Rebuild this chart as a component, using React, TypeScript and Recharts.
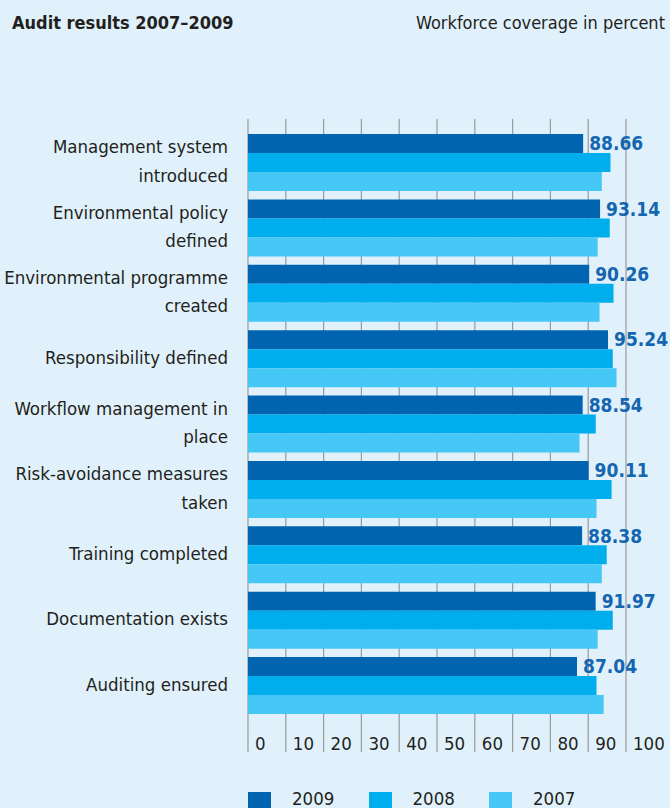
import React from "react";
import { BarChart, Bar, XAxis, YAxis, CartesianGrid, LabelList } from "recharts";

// categories (line breaks follow the original labels)
const categories = [
  "Management system\nintroduced",
  "Environmental policy\ndefined",
  "Environmental programme\ncreated",
  "Responsibility defined",
  "Workflow management in\nplace",
  "Risk-avoidance measures\ntaken",
  "Training completed",
  "Documentation exists",
  "Auditing ensured",
];

const values2009 = [88.66, 93.14, 90.26, 95.24, 88.54, 90.11, 88.38, 91.97, 87.04];
const values2008 = [95.9, 95.7, 96.7, 96.5, 92.0, 96.2, 94.9, 96.5, 92.2];
const values2007 = [93.6, 92.5, 93.0, 97.5, 87.7, 92.2, 93.6, 92.5, 94.1];

const xTicks = [0, 10, 20, 30, 40, 50, 60, 70, 80, 90, 100];

const series = [
  { key: "y2009", name: "2009", color: "#0064b1" },
  { key: "y2008", name: "2008", color: "#00aeed" },
  { key: "y2007", name: "2007", color: "#45c8f5" },
];

const data = categories.map((name, i) => ({
  name,
  y2009: values2009[i],
  y2008: values2008[i],
  y2007: values2007[i],
}));

const FONT = "'DejaVu Sans Condensed', 'DejaVu Sans', sans-serif";
const TEXT = "#231f20";
const BG = "#e0f1fb";

function CategoryTick({ x, y, payload }: any) {
  const lines = String(payload.value).split("\n");
  const lh = 28.4;
  const first = y + 5 - ((lines.length - 1) * lh) / 2;
  return (
    <text
      x={x}
      y={first}
      textAnchor="end"
      fill={TEXT}
      fontSize={18.5}
      fontFamily={FONT}
      style={{ fontStretch: "condensed" }}
    >
      {lines.map((l, i) => (
        <tspan key={i} x={x} y={first + i * lh}>
          {l}
        </tspan>
      ))}
    </text>
  );
}

// x tick labels sit inside the plot, just right of each gridline
function ValueTick({ x, y, payload }: any) {
  return (
    <text
      x={x + 7}
      y={y - 2}
      textAnchor="start"
      fill={TEXT}
      fontSize={18.5}
      fontFamily={FONT}
      style={{ fontStretch: "condensed" }}
    >
      {payload.value}
    </text>
  );
}

export default function App() {
  return (
    <div
      style={{
        position: "absolute",
        left: 0,
        top: 0,
        width: 670,
        height: 808,
        overflow: "hidden",
        background: BG,
        fontFamily: FONT,
        fontStretch: "condensed",
        color: TEXT,
      }}
    >
      <div
        style={{
          position: "absolute",
          left: 12,
          top: 13,
          fontSize: 18,
          lineHeight: "20px",
          fontWeight: "bold",
        }}
      >
        Audit results 2007–2009
      </div>
      <div
        style={{
          position: "absolute",
          right: 5,
          top: 13,
          fontSize: 18,
          lineHeight: "20px",
        }}
      >
        Workforce coverage in percent
      </div>

      <div style={{ position: "absolute", left: 0, top: 0 }}>
        <BarChart
          width={670}
          height={808}
          data={data}
          layout="vertical"
          margin={{ top: 119, right: 44, bottom: 55, left: 0 }}
          barCategoryGap={4.25}
          barGap={0}
        >
          <CartesianGrid horizontal={false} stroke="#9a9a9a" strokeWidth={1.2} />
          <XAxis
            type="number"
            domain={[0, 100]}
            ticks={xTicks}
            interval={0}
            height={1}
            axisLine={false}
            tickLine={false}
            tickSize={0}
            tickMargin={0}
            tick={<ValueTick />}
          />
          <YAxis
            type="category"
            dataKey="name"
            width={248}
            axisLine={false}
            tickLine={false}
            tickSize={0}
            tickMargin={20}
            interval={0}
            padding={{ top: 10.75, bottom: 33.75 }}
            tick={<CategoryTick />}
          />
          {series.map((s) => (
            <Bar key={s.key} dataKey={s.key} name={s.name} fill={s.color} isAnimationActive={false}>
              {s.key === "y2009" && (
                <LabelList
                  dataKey={s.key}
                  position="right"
                  offset={6}
                  fill="#1466b0"
                  fontSize={19}
                  fontWeight="bold"
                  fontFamily={FONT}
                  formatter={(v: any) => Number(v).toFixed(2)}
                />
              )}
            </Bar>
          ))}
        </BarChart>
      </div>

      <div
        style={{
          position: "absolute",
          left: 248,
          top: 791,
          display: "flex",
          fontSize: 18.5,
          lineHeight: "16px",
        }}
      >
        {series.map((s) => (
          <div key={s.key} style={{ display: "flex", alignItems: "flex-start", width: 120.5 }}>
            <span style={{ width: 23, height: 17, marginTop: 1, background: s.color, display: "inline-block" }} />
            <span style={{ marginLeft: 21 }}>{s.name}</span>
          </div>
        ))}
      </div>
    </div>
  );
}
